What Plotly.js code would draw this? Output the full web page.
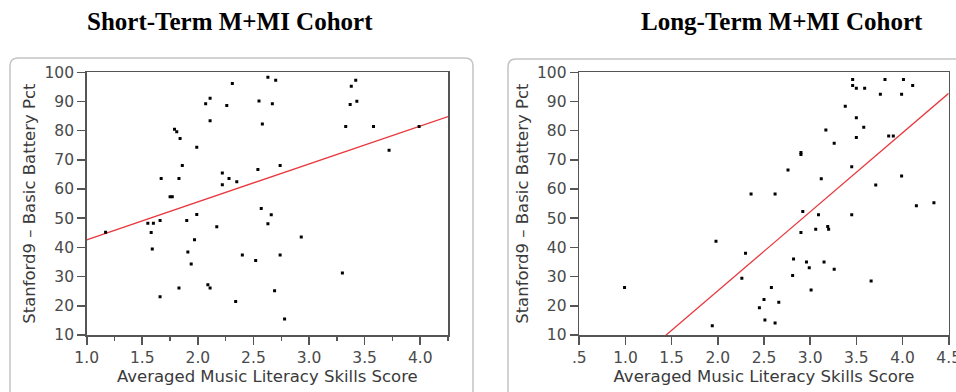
<!DOCTYPE html>
<html>
<head>
<meta charset="utf-8">
<script src="https://cdn.plot.ly/plotly-3.0.1.min.js"></script>
<style>
html,body{margin:0;padding:0;background:#fff;}
#chart{width:956px;height:392px;}
</style>
</head>
<body>
<div id="chart"></div>
<script>
// ---- Data: Short-Term M+MI Cohort ----
const shortX = [1.17,1.55,1.60,1.58,1.59,1.66,1.67,1.66,1.75,1.77,1.79,1.81,1.84,1.86,1.83,1.83,1.90,1.91,1.94,1.97,1.99,1.99,2.07,2.11,2.11,2.09,2.11,2.17,2.22,2.22,2.28,2.26,2.31,2.35,2.34,2.40,2.52,2.54,2.55,2.58,2.57,2.63,2.70,2.67,2.66,2.63,2.74,2.74,2.69,2.78,2.93,3.30,3.33,3.37,3.38,3.42,3.43,3.58,3.72,3.99];
const shortY = [45.2,48.3,48.3,45.1,39.5,49.2,63.6,23.1,57.4,57.4,80.5,79.6,77.3,68.1,63.6,26.1,49.2,38.4,34.3,42.6,51.3,74.3,89.2,91.1,83.4,27.2,26.1,47.1,65.5,61.5,63.6,88.6,96.2,62.5,21.5,37.4,35.5,66.7,90.2,82.3,53.3,98.3,97.3,89.2,51.2,48.1,68.1,37.4,25.2,15.5,43.6,31.2,81.4,89.0,95.2,97.3,90.1,81.4,73.3,81.4];
const shortFit = {intercept: 29.6, slope: 13.0};

// ---- Data: Long-Term M+MI Cohort ----
const longX = [0.99,1.94,1.98,2.26,2.30,2.36,2.45,2.50,2.51,2.58,2.62,2.62,2.66,2.76,2.81,2.82,2.90,2.90,2.90,2.92,2.96,2.99,3.01,3.06,3.09,3.12,3.15,3.17,3.19,3.20,3.26,3.26,3.38,3.45,3.45,3.46,3.46,3.50,3.50,3.50,3.58,3.59,3.66,3.71,3.76,3.81,3.85,3.90,3.99,3.99,4.01,4.11,4.15,4.34];
const longY = [26.3,13.2,42.1,29.4,38.0,58.3,19.3,22.2,15.1,26.3,14.1,58.3,21.2,66.5,30.4,36.0,72.5,71.8,45.1,52.3,35.0,33.0,25.4,46.2,51.2,63.5,35.0,80.2,47.2,46.2,75.7,32.5,88.4,67.6,51.2,97.5,95.5,94.5,84.4,77.7,81.2,94.5,28.5,61.4,92.5,97.5,78.2,78.2,92.5,64.5,97.5,95.5,54.3,55.3];
const longFit = {intercept: -28.97, slope: 27.06};

// ---- Labels ----
const titles = ["Short-Term M+MI Cohort", "Long-Term M+MI Cohort"];
const xTitle = "Averaged Music Literacy Skills Score";
const yTitle = "Stanford9 \u2013 Basic Battery Pct";
const shortXRange = [1.0, 4.25];
const longXRange = [0.5, 4.5];
const longTickVals = [0.5,1.0,1.5,2.0,2.5,3.0,3.5,4.0,4.5];
const longTickText = [".5","1.0","1.5","2.0","2.5","3.0","3.5","4.0","4.5"];

// ---- Geometry helpers (pixels -> paper) ----
const W = 956, H = 392;
const px = v => v / W;
const py = v => 1 - v / H;

const tickFont = {family: "DejaVu Sans", size: 15.5, color: "#4a4a4a"};
const titleFont = {family: "DejaVu Sans", size: 16.5, color: "#3a3a3a"};
const axisColor = "#555";

function fitLine(fit, range, xa, ya) {
  return {
    x: range.slice(),
    y: range.map(v => fit.intercept + fit.slope * v),
    xaxis: xa, yaxis: ya,
    mode: "lines", type: "scatter",
    line: {color: "#e8393f", width: 1.3},
    hoverinfo: "skip", showlegend: false
  };
}
function pts(xs, ys, xa, ya) {
  return {
    x: xs, y: ys, xaxis: xa, yaxis: ya,
    mode: "markers", type: "scatter",
    marker: {symbol: "square", size: 3, color: "#000"},
    showlegend: false
  };
}

const data = [
  fitLine(shortFit, shortXRange, "x", "y"),
  pts(shortX, shortY, "x", "y"),
  fitLine(longFit, longXRange, "x2", "y2"),
  pts(longX, longY, "x2", "y2")
];

const yDomain = [py(335), py(72.3)];
const commonAxis = {
  showgrid: false, zeroline: false,
  showline: true, linecolor: axisColor, linewidth: 1.6, mirror: true,
  ticks: "outside", ticklen: 8, tickwidth: 1.6, tickcolor: axisColor,
  tickfont: tickFont, automargin: false, fixedrange: true,
  ticklabeloverflow: "allow"
};

function roundedFrame(x0, x1, y0, r) {
  const yb = H + 5;
  return {
    type: "path", xref: "paper", yref: "paper",
    path: `M ${px(x0)},${py(yb)} L ${px(x0)},${py(y0 + r)} Q ${px(x0)},${py(y0)} ${px(x0 + r)},${py(y0)} ` +
          `L ${px(x1 - r)},${py(y0)} Q ${px(x1)},${py(y0)} ${px(x1)},${py(y0 + r)} L ${px(x1)},${py(yb)}`,
    line: {color: "#c4c4c4", width: 1.5},
    layer: "below"
  };
}

const layout = {
  width: W, height: H,
  margin: {l: 0, r: 0, t: 0, b: 0},
  paper_bgcolor: "#fff", plot_bgcolor: "#fff",
  showlegend: false,
  xaxis: Object.assign({}, commonAxis, {
    domain: [px(86.7), px(448)], range: shortXRange,
    tick0: 1.0, dtick: 0.5, tickformat: ".1f",
    minor: {ticks: "outside", ticklen: 4, tickwidth: 1.4, tickcolor: axisColor, dtick: 0.25, tick0: 1.0, showgrid: false},
    title: {text: xTitle, font: titleFont, standoff: 2}
  }),
  yaxis: Object.assign({}, commonAxis, {
    domain: yDomain, range: [10, 100], dtick: 10, tick0: 10,
    title: {text: yTitle, font: titleFont, standoff: 4}
  }),
  xaxis2: Object.assign({}, commonAxis, {
    anchor: "y2",
    domain: [px(579.3), px(948.7)], range: longXRange,
    tickmode: "array", tickvals: longTickVals, ticktext: longTickText,
    title: {text: xTitle, font: titleFont, standoff: 2}
  }),
  yaxis2: Object.assign({}, commonAxis, {
    anchor: "x2",
    domain: yDomain, range: [10, 100], dtick: 10, tick0: 10,
    title: {text: yTitle, font: titleFont, standoff: 4}
  }),
  annotations: [
    {text: "<b>" + titles[0] + "</b>", xref: "paper", yref: "paper", x: px(230), y: py(21),
     xanchor: "center", yanchor: "middle", showarrow: false,
     font: {family: "Liberation Serif", size: 25, color: "#000"}},
    {text: "<b>" + titles[1] + "</b>", xref: "paper", yref: "paper", x: px(782), y: py(21),
     xanchor: "center", yanchor: "middle", showarrow: false,
     font: {family: "Liberation Serif", size: 25, color: "#000"}}
  ],
  shapes: [
    roundedFrame(10, 473, 58, 8),
    roundedFrame(508, 975, 59, 8)
  ]
};

Plotly.newPlot("chart", data, layout, {staticPlot: true, displayModeBar: false});
</script>
</body>
</html>
